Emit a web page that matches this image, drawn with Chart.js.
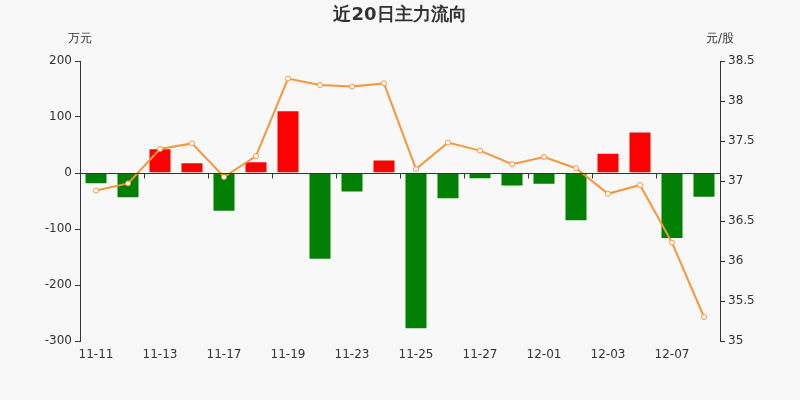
<!DOCTYPE html>
<html>
<head>
<meta charset="utf-8">
<script src="https://cdn.jsdelivr.net/npm/chart.js@4/dist/chart.umd.min.js"></script>
<style>
  html, body { margin: 0; padding: 0; background: #f8f8f8; }
  #wrap { width: 800px; height: 400px; }
</style>
</head>
<body>
<div id="wrap"><canvas id="chart" width="800" height="400"></canvas></div>
<script>
'use strict';

// 近20日主力流向 — values
const dates  = ['11-11', '11-12', '11-13', '11-16', '11-17', '11-18', '11-19', '11-20', '11-23', '11-24',
                '11-25', '11-26', '11-27', '11-30', '12-01', '12-02', '12-03', '12-04', '12-07', '12-08'];
const flows  = [-20, -45, 44, 19, -69, 21, 112, -155, -35, 24,
                -279, -47, -11, -24, -21, -86, 36, 74, -118, -44];   // 万元
const prices = [36.88, 36.97, 37.40, 37.47, 37.05, 37.31, 38.28, 38.20, 38.18, 38.22,
                37.15, 37.48, 37.38, 37.21, 37.30, 37.16, 36.84, 36.95, 36.23, 35.30]; // 元/股

const TXT = '#333';
const FONT = "'DejaVu Sans', sans-serif";

Chart.defaults.font.family = FONT;
Chart.defaults.font.size = 12;
Chart.defaults.color = TXT;

// title, unit labels and the zero axis line with its ticks
const decor = {
  id: 'decor',
  beforeDraw(chart) {
    const { ctx } = chart;
    ctx.save();
    ctx.fillStyle = '#f8f8f8';
    ctx.fillRect(0, 0, chart.width, chart.height);
    ctx.restore();
  },
  afterDatasetsDraw(chart) {
    const { ctx, chartArea, scales } = chart;
    const y0 = scales.yL.getPixelForValue(0);
    const x = scales.x;
    const half = (x.getPixelForValue(1) - x.getPixelForValue(0)) / 2;
    ctx.save();
    ctx.strokeStyle = TXT;
    ctx.lineWidth = 1;
    ctx.beginPath();
    ctx.moveTo(chartArea.left, Math.round(y0) + 0.5);
    ctx.lineTo(chartArea.right, Math.round(y0) + 0.5);
    for (let i = 1; i < dates.length - 1; i += 2) {
      const px = Math.round(x.getPixelForValue(i) + half) + 0.5;
      ctx.moveTo(px, Math.round(y0) + 0.5);
      ctx.lineTo(px, Math.round(y0) + 5.5);
    }
    ctx.stroke();
    ctx.restore();
  },
  afterDraw(chart) {
    const { ctx, chartArea } = chart;
    ctx.save();
    ctx.fillStyle = TXT;
    ctx.textBaseline = 'middle';
    ctx.textAlign = 'center';
    ctx.font = 'bold 18px ' + FONT;
    ctx.fillText('近20日主力流向', 400, 15);
    ctx.font = '12px ' + FONT;
    ctx.fillText('万元', chartArea.left, 39);
    ctx.fillText('元/股', chartArea.right, 39);
    ctx.restore();
  }
};

new Chart(document.getElementById('chart'), {
  data: {
    labels: dates,
    datasets: [
      {
        type: 'line',
        label: '股价',
        data: prices,
        yAxisID: 'yR',
        borderColor: '#f7953a',
        borderWidth: 2,
        pointRadius: 2.5,
        pointBackgroundColor: '#fff',
        pointBorderColor: '#f7953a',
        pointBorderWidth: 1,
        tension: 0,
        order: 0,
      },
      {
        type: 'bar',
        label: '主力流向',
        data: flows,
        yAxisID: 'yL',
        backgroundColor: flows.map(v => v >= 0 ? '#ff0000' : '#008000'),
        borderColor: 'rgba(255,255,255,0.5)',
        borderWidth: 1,
        barPercentage: 0.72,
        categoryPercentage: 1,
        order: 1,
      },
    ],
  },
  options: {
    responsive: false,
    animation: false,
    layout: { padding: { top: 61, left: 0, right: 0, bottom: 0 } },
    plugins: {
      legend: { display: false },
      tooltip: { enabled: false },
    },
    scales: {
      x: {
        offset: true,
        grid: { display: false, drawTicks: false },
        border: { display: false },
        ticks: {
          autoSkip: false,
          maxRotation: 0,
          padding: 7,
          color: TXT,
          callback: (v, i) => (i % 2 === 0 ? dates[i] : ''),
        },
        afterFit: s => { s.height = 59; },
      },
      yL: {
        position: 'left',
        min: -300,
        max: 200,
        ticks: { stepSize: 100, padding: 3, color: TXT, callback: v => String(v) },
        grid: { drawOnChartArea: false, tickLength: 5, color: TXT },
        border: { display: true, color: TXT },
        afterFit: s => { s.width = 80; s.paddingTop = 0; s.paddingBottom = 0; },
      },
      yR: {
        position: 'right',
        min: 35,
        max: 38.5,
        ticks: { stepSize: 0.5, padding: 3, color: TXT, callback: v => String(v) },
        grid: { drawOnChartArea: false, tickLength: 5, color: TXT },
        border: { display: true, color: TXT },
        afterFit: s => { s.width = 80; s.paddingTop = 0; s.paddingBottom = 0; },
      },
    },
  },
  plugins: [decor],
});
</script>
</body>
</html>
